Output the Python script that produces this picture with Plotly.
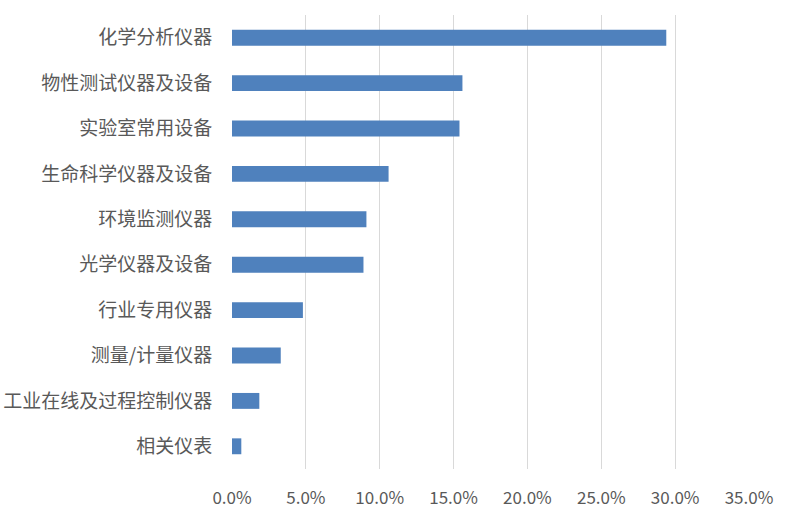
import plotly.graph_objects as go

# Share of instrument categories
categories = [
    "化学分析仪器",
    "物性测试仪器及设备",
    "实验室常用设备",
    "生命科学仪器及设备",
    "环境监测仪器",
    "光学仪器及设备",
    "行业专用仪器",
    "测量/计量仪器",
    "工业在线及过程控制仪器",
    "相关仪表",
]
shares = [29.4, 15.6, 15.4, 10.6, 9.1, 8.9, 4.8, 3.3, 1.85, 0.63]
tick_values = [0, 5, 10, 15, 20, 25, 30, 35]
tick_labels = ["0.0%", "5.0%", "10.0%", "15.0%", "20.0%", "25.0%", "30.0%", "35.0%"]

font_family = "Noto Sans CJK SC, Microsoft YaHei, sans-serif"

fig = go.Figure(
    go.Bar(
        x=shares,
        y=categories,
        orientation="h",
        marker=dict(color="#4f81bd", line=dict(width=0)),
        width=0.35,
    )
)

fig.update_layout(
    width=785,
    height=510,
    margin=dict(l=232, r=36, t=15, b=41),
    paper_bgcolor="white",
    plot_bgcolor="white",
    showlegend=False,
    font=dict(family=font_family, size=16, color="#595959"),
)

fig.update_xaxes(
    range=[0, 35],
    tickvals=tick_values,
    ticktext=tick_labels,
    showgrid=True,
    gridcolor="#d9d9d9",
    gridwidth=1,
    zeroline=False,
    showline=False,
    ticks="outside",
    ticklen=14,
    tickcolor="rgba(0,0,0,0)",
    tickfont=dict(size=17, color="#595959"),
    automargin=False,
)

fig.update_yaxes(
    autorange="reversed",
    showgrid=False,
    zeroline=False,
    showline=False,
    ticks="outside",
    ticklen=15,
    tickcolor="rgba(0,0,0,0)",
    tickfont=dict(size=19, color="#595959"),
    automargin=False,
)

fig.write_html("out.html")
